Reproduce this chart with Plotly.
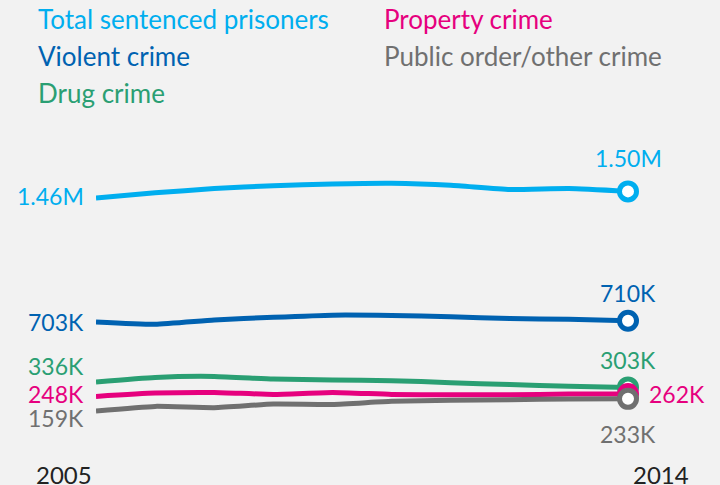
import plotly.graph_objects as go

years = list(range(2005, 2015))
series_names = ["Total sentenced prisoners", "Violent crime", "Drug crime", "Property crime", "Public order/other crime"]
total = [1460, 1491, 1517, 1535, 1545, 1549, 1537, 1511, 1517, 1500]
violent = [703, 689, 715, 731, 744, 742, 734, 723, 719, 710]
drug = [336, 364, 370, 354, 348, 344, 332, 320, 310, 303]
prop = [248, 268, 272, 260, 272, 260, 258, 258, 262, 262]
public = [159, 187, 179, 201, 199, 218, 224, 228, 232, 233]
start_labels = ["1.46M", "703K", "336K", "248K", "159K"]
end_labels = ["1.50M", "710K", "303K", "262K", "233K"]
colors = ["#00aeef", "#0062b1", "#2a9f73", "#e6007e", "#707070"]

data = [total, violent, drug, prop, public]
BG = "#f2f2f2"
FONT = "Lato"

L, T, W, H = 96, 175, 532, 262


def px_x(px):
    return (px - L) / W


def px_y(py):
    return (T + H - py) / H


fig = go.Figure()
for name, vals, c in zip(series_names, data, colors):
    fig.add_trace(go.Scatter(
        x=years, y=vals, mode="lines", name=name,
        line=dict(color=c, width=5, shape="spline", smoothing=0.5),
        showlegend=False, hoverinfo="skip", cliponaxis=False))
for name, vals, c in zip(series_names, data, colors):
    fig.add_trace(go.Scatter(
        x=[years[-1]], y=[vals[-1]], mode="markers", name=name,
        marker=dict(size=17, color="white", line=dict(color=c, width=5)),
        showlegend=False, hoverinfo="skip", cliponaxis=False))

ann = []
# legend as text
leg_pos = [(36, 19), (36, 56), (36, 93), (382, 19), (382, 56)]
for (px, py), name, c in zip(leg_pos, series_names, colors):
    ann.append(dict(xref="paper", yref="paper", x=px_x(px), y=px_y(py), text=name, showarrow=False,
                    xanchor="left", yanchor="middle",
                    font=dict(family=FONT, size=26, color=c)))

# start labels (right-aligned, left of first point)
start_shift = [2, 0, 16, 2, -7]
for lab, vals, c, ys in zip(start_labels, data, colors, start_shift):
    ann.append(dict(xref="x", yref="y", x=years[0], y=vals[0], text=lab, showarrow=False,
                    xanchor="right", yanchor="middle", xshift=-10, yshift=ys,
                    font=dict(family=FONT, size=23, color=c)))

# end labels
end_cfg = [("center", 0, 33), ("center", 0, 28), ("center", 0, 27), ("left", 19, 0), ("center", 0, -35)]
for lab, vals, c, (xa, xs, ys) in zip(end_labels, data, colors, end_cfg):
    ann.append(dict(xref="x", yref="y", x=years[-1], y=vals[-1], text=lab, showarrow=False,
                    xanchor=xa, yanchor="middle", xshift=xs, yshift=ys,
                    font=dict(family=FONT, size=23, color=c)))

# year labels
ann.append(dict(xref="x", yref="y", x=years[0], y=0, text=str(years[0]), showarrow=False,
                xanchor="center", yanchor="middle", xshift=-32, yshift=-37,
                font=dict(family=FONT, size=24, color="#222222")))
ann.append(dict(xref="x", yref="y", x=years[-1], y=0, text=str(years[-1]), showarrow=False,
                xanchor="center", yanchor="middle", xshift=33, yshift=-37,
                font=dict(family=FONT, size=24, color="#222222")))

fig.update_layout(
    width=720, height=485,
    margin=dict(l=L, r=720 - L - W, t=T, b=485 - T - H),
    paper_bgcolor=BG, plot_bgcolor=BG,
    xaxis=dict(range=[2005, 2014], visible=False, fixedrange=True),
    yaxis=dict(range=[0, 1600], visible=False, fixedrange=True),
    annotations=ann,
    showlegend=False,
)
fig.write_html("out.html", config={"displayModeBar": False},
               post_script="document.body.style.margin='0px';document.body.style.background='#f2f2f2';")
